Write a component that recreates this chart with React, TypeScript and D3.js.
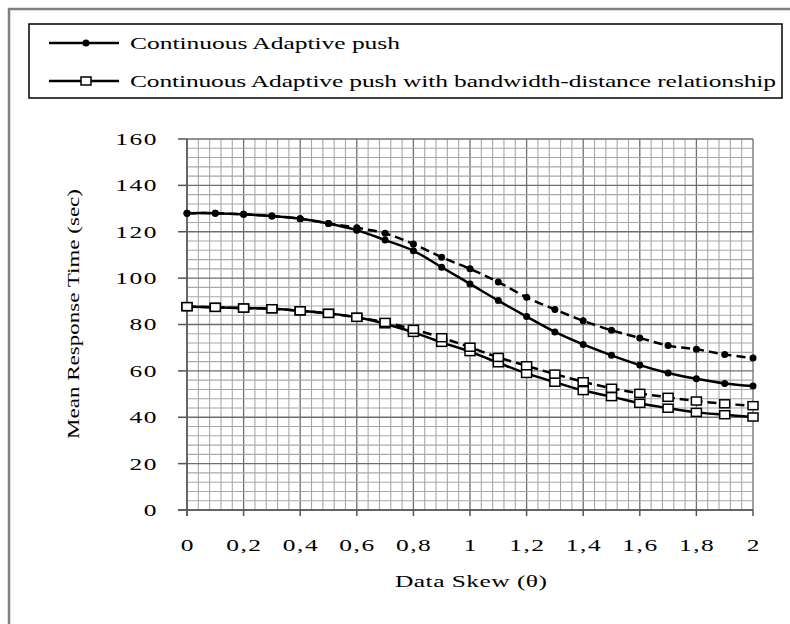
import React from "react";
import * as d3 from "d3";

const skew = [0, 0.1, 0.2, 0.3, 0.4, 0.5, 0.6, 0.7, 0.8, 0.9, 1.0, 1.1, 1.2, 1.3, 1.4, 1.5, 1.6, 1.7, 1.8, 1.9, 2.0];
const adaptiveSolid = [128, 128, 127.5, 126.8, 125.6, 123.6, 120.7, 116.4, 111.8, 104.7, 97.5, 90.3, 83.4, 76.8, 71.4, 66.7, 62.5, 59.1, 56.6, 54.6, 53.5];
const adaptiveDashed = [128, 128, 127.5, 126.8, 125.6, 123.6, 121.7, 119.3, 114.7, 109, 104, 98.3, 91.7, 86.5, 81.6, 77.5, 74.2, 70.9, 69.3, 67.1, 65.5];
const bandwidthSolid = [87.7, 87.4, 87.1, 86.8, 85.9, 84.8, 83.1, 80.3, 76.6, 72.3, 68.3, 63.5, 58.9, 55.1, 51.5, 48.9, 46, 43.9, 42.1, 41.1, 40.1];
const bandwidthDashed = [87.7, 87.4, 87.1, 86.8, 85.9, 84.8, 83.1, 80.9, 77.9, 74.3, 70.2, 65.8, 62.2, 58.6, 55.3, 52.5, 50.3, 48.6, 47, 45.8, 45];
const xTickValues = [0, 0.2, 0.4, 0.6, 0.8, 1, 1.2, 1.4, 1.6, 1.8, 2];
const xTickLabels = ["0", "0,2", "0,4", "0,6", "0,8", "1", "1,2", "1,4", "1,6", "1,8", "2"];
const yTickValues = [0, 20, 40, 60, 80, 100, 120, 140, 160];
const legendLabels = ["Continuous Adaptive push", "Continuous Adaptive push with bandwidth-distance relationship"];
const xTitle = "Data Skew (\u03b8)";
const yTitle = "Mean Response Time (sec)";

const FONT = "'Liberation Serif', 'Times New Roman', serif";
const SX = 1.5;

function WideText(props: {
  x: number;
  y: number;
  anchor?: string;
  rotate?: number;
  sx?: number;
  len?: number;
  spacing?: number;
  children: string;
}) {
  const sx = props.sx ?? SX;
  const rot = props.rotate ? ` rotate(${props.rotate})` : "";
  return (
    <text
      transform={`translate(${props.x},${props.y})${rot} scale(${sx},1)`}
      textAnchor={props.anchor ?? "start"}
      dy="0.35em"
      fontSize={17}
      fill="#000"
      letterSpacing={props.spacing}
      textLength={props.len !== undefined ? props.len / sx : undefined}
      lengthAdjust={props.len !== undefined ? "spacing" : undefined}
    >
      {props.children}
    </text>
  );
}

export default function App() {
  const x = d3.scaleLinear().domain([0, 2]).range([187, 753]);
  const y = d3.scaleLinear().domain([0, 160]).range([510, 139]);
  const minorX = d3.range(0, 51).map((i) => i * 0.04);
  const minorY = d3.range(0, 41).map((i) => i * 4);

  const line = d3
    .line<number>()
    .x((_, i) => x(skew[i]))
    .y((d) => y(d))
    .curve(d3.curveCatmullRom.alpha(0.5));

  const series = [
    { values: adaptiveSolid, dash: undefined, marker: "dot" },
    { values: adaptiveDashed, dash: "9,5", marker: "dot" },
    { values: bandwidthSolid, dash: undefined, marker: "square" },
    { values: bandwidthDashed, dash: "9,5", marker: "square" },
  ];

  const marker = (kind: string, cx: number, cy: number, key: string) =>
    kind === "dot" ? (
      <circle key={key} cx={cx} cy={cy} r={3.5} fill="#000" />
    ) : (
      <rect key={key} x={cx - 5} y={cy - 4} width={10} height={8} fill="#fff" stroke="#000" strokeWidth={1.5} />
    );

  return (
    <svg
      width={790}
      height={624}
      style={{ position: "absolute", left: 0, top: 0, background: "#fff" }}
      fontFamily={FONT}
    >
      <rect x={0} y={0} width={790} height={624} fill="#fff" />
      <rect x={9} y={9} width={800} height={640} fill="none" stroke="#808080" strokeWidth={2.5} />

      {/* legend */}
      <rect x={29} y={24} width={753} height={74} fill="#fff" stroke="#000" strokeWidth={1.5} />
      {legendLabels.map((lab, i) => {
        const ly = i === 0 ? 43 : 81;
        return (
          <g key={lab}>
            <line x1={49} x2={119} y1={ly} y2={ly} stroke="#000" strokeWidth={2.5} />
            {marker(i === 0 ? "dot" : "square", 86, ly, "lm" + i)}
            <WideText x={130} y={ly} len={i === 0 ? 270 : 646}>
              {lab}
            </WideText>
          </g>
        );
      })}

      {/* grid */}
      {minorX.map((v, i) => (
        <line
          key={"gx" + i}
          x1={x(v)}
          x2={x(v)}
          y1={y(160)}
          y2={y(0)}
          stroke={i % 5 === 0 ? "#6e6e6e" : "#a8a8a8"}
          strokeWidth={i % 5 === 0 ? 1.3 : 1.1}
        />
      ))}
      {minorY.map((v, i) => (
        <line
          key={"gy" + i}
          x1={x(0)}
          x2={x(2)}
          y1={y(v)}
          y2={y(v)}
          stroke={i % 5 === 0 ? "#6e6e6e" : "#a8a8a8"}
          strokeWidth={i % 5 === 0 ? 1.3 : 1.1}
        />
      ))}

      {/* axes */}
      <line x1={x(0)} x2={x(0)} y1={y(160)} y2={y(0) + 6} stroke="#555" strokeWidth={1.5} />
      <line x1={x(0) - 9} x2={x(2)} y1={y(0)} y2={y(0)} stroke="#555" strokeWidth={1.5} />
      {yTickValues.map((v) => (
        <line key={"yt" + v} x1={x(0) - 9} x2={x(0)} y1={y(v)} y2={y(v)} stroke="#555" strokeWidth={1.5} />
      ))}
      {xTickValues.map((v) => (
        <line key={"xt" + v} x1={x(v)} x2={x(v)} y1={y(0)} y2={y(0) + 6} stroke="#555" strokeWidth={1.5} />
      ))}

      {yTickValues.map((v) => (
        <WideText key={"yl" + v} x={158} y={y(v)} anchor="end" spacing={1}>
          {String(v)}
        </WideText>
      ))}
      {xTickValues.map((v, i) => (
        <WideText key={"xl" + v} x={x(v) + 0.75} y={545} anchor="middle" spacing={1}>
          {xTickLabels[i]}
        </WideText>
      ))}

      <WideText x={471} y={581} anchor="middle" len={152}>
        {xTitle}
      </WideText>
      <WideText x={73} y={314} anchor="middle" rotate={-90} sx={1.35} len={250}>
        {yTitle}
      </WideText>

      {/* series */}
      {series.map((s, si) => (
        <g key={"s" + si}>
          <path d={line(s.values) || ""} fill="none" stroke="#000" strokeWidth={2.5} strokeDasharray={s.dash} />
          {s.values.map((v, i) => marker(s.marker, x(skew[i]), y(v), "m" + si + "-" + i))}
        </g>
      ))}
    </svg>
  );
}
